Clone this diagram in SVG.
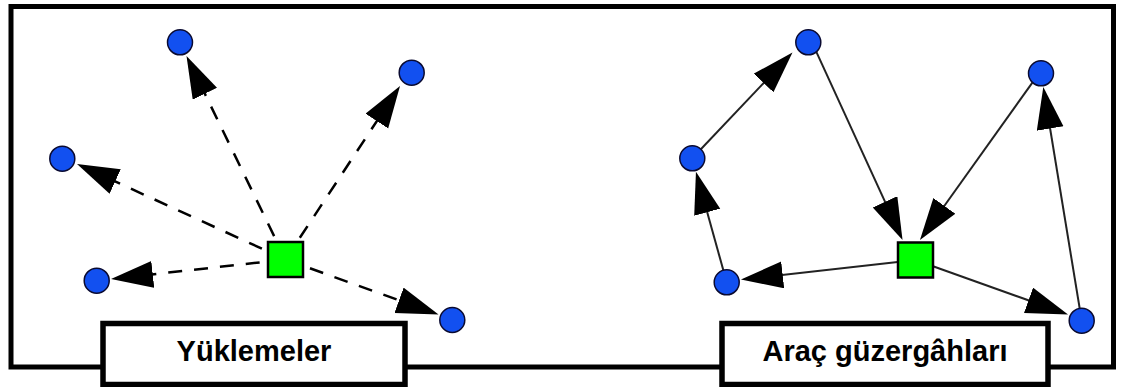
<svg xmlns="http://www.w3.org/2000/svg" width="1121" height="387" viewBox="0 0 1121 387">
  <style>
    .frame { fill: #fff; stroke: #000; stroke-width: 5; }
    .label-box { fill: #fff; stroke: #000; stroke-width: 5.5; }
    .label { font-family: "Liberation Sans", Arial, sans-serif; font-weight: bold; font-size: 29px; fill: #000; text-anchor: middle; }
    .stop { fill: #1250f0; stroke: #0a0a30; stroke-width: 1.5; }
    .depot { fill: #00ff00; stroke: #000; stroke-width: 2.5; }
    .load { stroke: #000; stroke-width: 2.5; stroke-dasharray: 14 12; fill: none; marker-end: url(#arrow); }
    .route { stroke: #222; stroke-width: 2; fill: none; marker-end: url(#arrow); }
  </style>
  <defs>
    <marker id="arrow" markerUnits="userSpaceOnUse" markerWidth="44" markerHeight="28" refX="34" refY="13.5" orient="auto">
      <path d="M0,0 L42,13.5 L0,27 z" fill="#000"/>
    </marker>
  </defs>

  <!-- outer frame -->
  <rect class="frame" x="11" y="6.5" width="1102.5" height="360.5"/>

  <!-- connectors -->
  <g id="connectors">
    <!-- left panel: dashed load assignments from the depot -->
    <line class="load" x1="285.5" y1="259.5" x2="190.0" y2="63.2"/>
    <line class="load" x1="285.5" y1="259.5" x2="84.3" y2="167.3"/>
    <line class="load" x1="285.5" y1="259.5" x2="119.0" y2="278.1"/>
    <line class="load" x1="285.5" y1="259.5" x2="395.6" y2="92.7"/>
    <line class="load" x1="285.5" y1="259.5" x2="431.0" y2="311.8"/>
    <!-- right panel: vehicle routes -->
    <line class="route" x1="692.3" y1="158.3" x2="787.0" y2="58.3"/>
    <line class="route" x1="812" y1="42.3" x2="899.2" y2="232.7"/>
    <line class="route" x1="1039" y1="73.3" x2="924.6" y2="233.5"/>
    <line class="route" x1="915.5" y1="260" x2="748.9" y2="278.6"/>
    <line class="route" x1="915.5" y1="260" x2="1060.5" y2="311.8"/>
    <line class="route" x1="726.7" y1="282.3" x2="698.1" y2="179.5"/>
    <line class="route" x1="1081.7" y1="320.7" x2="1044.6" y2="95.0"/>
  </g>

  <!-- left panel nodes -->
  <g id="depot-left"><rect class="depot" x="268" y="242" width="35" height="35"/></g>
  <g id="stop-l1"><circle class="stop" cx="180" cy="42.3" r="12.5"/></g>
  <g id="stop-l2"><circle class="stop" cx="62.3" cy="158.7" r="12.5"/></g>
  <g id="stop-l3"><circle class="stop" cx="96.7" cy="280.7" r="12.5"/></g>
  <g id="stop-l4"><circle class="stop" cx="411.7" cy="72.7" r="12.5"/></g>
  <g id="stop-l5"><circle class="stop" cx="452.3" cy="320" r="12.5"/></g>

  <!-- right panel nodes -->
  <g id="depot-right"><rect class="depot" x="898" y="242.5" width="35" height="35"/></g>
  <g id="stop-r1"><circle class="stop" cx="808.3" cy="42.3" r="12.5"/></g>
  <g id="stop-r2"><circle class="stop" cx="692.3" cy="158.3" r="12.5"/></g>
  <g id="stop-r3"><circle class="stop" cx="726.7" cy="282.3" r="12.5"/></g>
  <g id="stop-r4"><circle class="stop" cx="1041" cy="73.3" r="12.5"/></g>
  <g id="stop-r5"><circle class="stop" cx="1081.7" cy="320.7" r="12.5"/></g>

  <!-- panel captions -->
  <g id="caption-left">
    <rect class="label-box" x="103" y="323.5" width="302" height="61"/>
    <text class="label" x="254" y="361">Yüklemeler</text>
  </g>
  <g id="caption-right">
    <rect class="label-box" x="722" y="323.5" width="326" height="61"/>
    <text class="label" x="885" y="361">Araç güzergâhları</text>
  </g>
</svg>
